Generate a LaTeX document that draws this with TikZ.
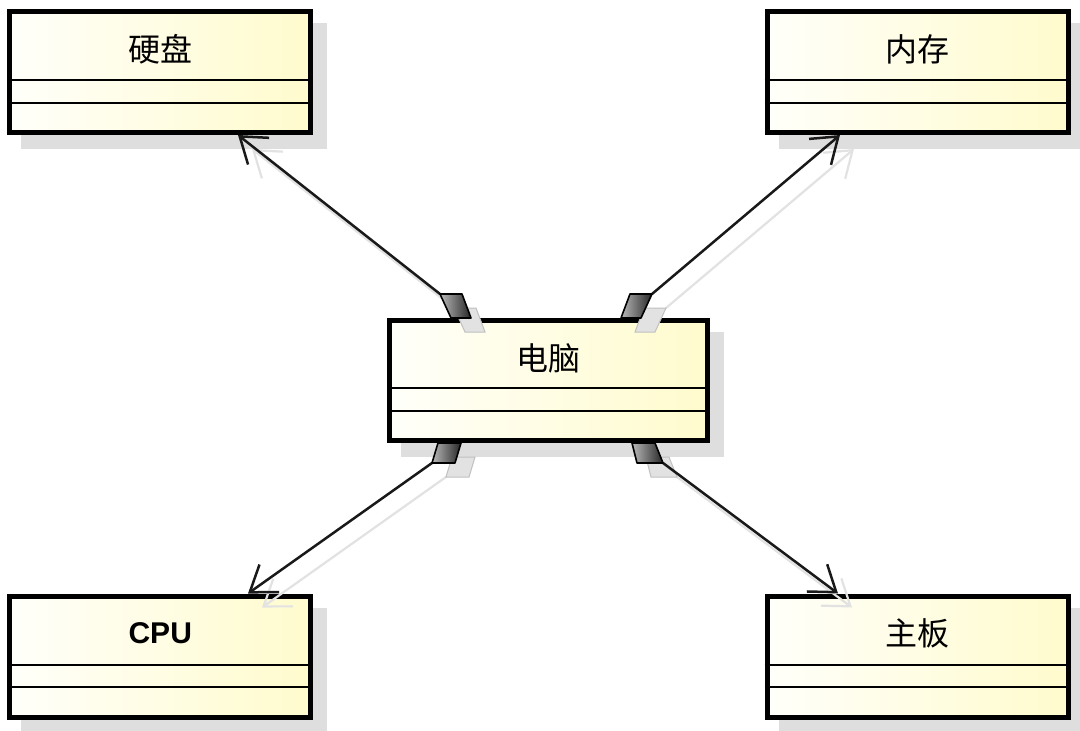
\documentclass[tikz,border=0pt]{standalone}
\usepackage{fontspec}
\setmainfont{Liberation Sans}
\newfontfamily\cjk{Noto Sans CJK SC}
\usetikzlibrary{arrows.meta,shadows,calc}
\definecolor{boxL}{RGB}{255,255,250}
\definecolor{boxR}{RGB}{255,251,205}
\definecolor{shd}{RGB}{222,222,222}
\definecolor{lshd}{RGB}{226,226,226}
\begin{document}
\begin{tikzpicture}[x=1pt,y=-1pt,
  cls/.style={rectangle, draw=black, line width=5pt, inner sep=0pt,
    left color=boxL, right color=boxR,
    drop shadow={shadow xshift=14pt, shadow yshift=-14pt, fill=shd, draw=shd, opacity=1}},
  small/.style={cls, minimum width=301pt, minimum height=121pt},
  big/.style={cls, minimum width=318pt, minimum height=120pt},
  divider/.style={draw=black, line width=2pt},
  cjklbl/.style={font=\cjk\fontsize{32}{38}\selectfont, inner sep=0pt},
  latlbl/.style={font=\bfseries\fontsize{30}{36}\selectfont, inner sep=0pt},
  conn/.style={draw=black!90, line width=2.5pt, line cap=round,
    -{Straight Barb[length=24pt,width=34pt]}},
  sconn/.style={draw=lshd, line width=2.2pt, line cap=round,
    -{Straight Barb[length=24pt,width=34pt]}},
  comp/.style={draw=black, line width=1.6pt, line join=round, left color=gray!55, right color=black!85},
  scomp/.style={draw=lshd!85!black, line width=1pt, fill=lshd}
]
\useasboundingbox[fill=white] (0,0) rectangle (1080,731);

% class boxes
\node[small] (hd) at (160.25,72) {};
\node[small] (nc) at (917.5,72) {};
\node[big]   (pc) at (548.5,380.5) {};
\node[small] (cpu) at (160.25,656.5) {};
\node[small] (mb) at (917.5,656.5) {};

% compartments
\foreach \n in {hd,nc,pc,cpu,mb}{
  \draw[divider] ([yshift=55pt]\n.south west) -- ([yshift=55pt]\n.south east);
  \draw[divider] ([yshift=32.5pt]\n.south west) -- ([yshift=32.5pt]\n.south east);
}

% names
\node[cjklbl] (hd-l) at ([yshift=-40pt]hd.north) {硬盘};
\node[cjklbl] (nc-l) at ([yshift=-40pt]nc.north) {内存};
\node[cjklbl] (pc-l) at ([yshift=-40pt]pc.north) {电脑};
\node[latlbl] (cpu-l) at ([yshift=-40pt]cpu.north) {CPU};
\node[cjklbl] (mb-l) at ([yshift=-40pt]mb.north) {主板};

% diamond attach points
\coordinate (a1) at ($(pc.north)+(-108.5,-24)$);
\coordinate (a2) at ($(pc.north)+(103.5,-24)$);
\coordinate (a3) at ($(pc.south)+(-116.5,20)$);
\coordinate (a4) at ($(pc.south)+(114.5,20)$);

% connector shadows
\begin{scope}[transform canvas={xshift=14pt,yshift=-14pt}]
  \draw[sconn] (a1) -- ([xshift=77.75pt]hd.south);
  \draw[sconn] (a2) -- ([xshift=-77.5pt]nc.south);
  \draw[sconn] (a3) -- ([xshift=87.75pt]cpu.north);
  \draw[sconn] (a4) -- ([xshift=-79.5pt]mb.north);
  \path[scomp] (a1) -- ++(22,0) -- ++(9,24) -- ++(-20,0) -- cycle;
  \path[scomp] (a2) -- ++(-22,0) -- ++(-9,24) -- ++(20,0) -- cycle;
  \path[scomp] (a3) -- ++(23,0) -- ++(6,-20) -- ++(-23,0) -- cycle;
  \path[scomp] (a4) -- ++(-26,0) -- ++(-5,-20) -- ++(23,0) -- cycle;
\end{scope}

% connectors
\draw[conn] (a1) -- ([xshift=77.75pt]hd.south);
\draw[conn] (a2) -- ([xshift=-77.5pt]nc.south);
\draw[conn] (a3) -- ([xshift=87.75pt]cpu.north);
\draw[conn] (a4) -- ([xshift=-79.5pt]mb.north);

% composition diamonds
\path[comp] (a1) -- ++(22,0) -- ++(9,24) -- ++(-20,0) -- cycle;
\path[comp] (a2) -- ++(-22,0) -- ++(-9,24) -- ++(20,0) -- cycle;
\path[comp] (a3) -- ++(23,0) -- ++(6,-20) -- ++(-23,0) -- cycle;
\path[comp] (a4) -- ++(-26,0) -- ++(-5,-20) -- ++(23,0) -- cycle;
\end{tikzpicture}
\end{document}
